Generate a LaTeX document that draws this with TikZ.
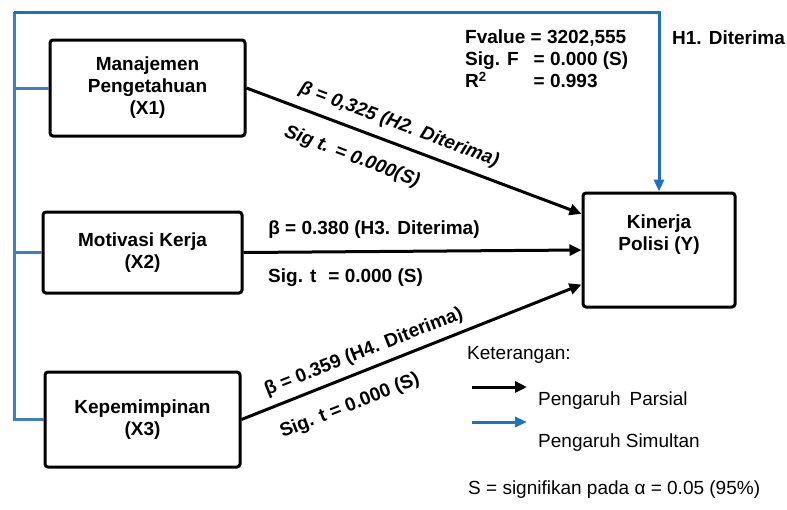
\documentclass[tikz,border=0pt]{standalone}
\usepackage{fontspec}
\setmainfont{Liberation Sans}
\usetikzlibrary{arrows.meta,calc}
\definecolor{frameblue}{RGB}{62,125,190}
\definecolor{arrowblue}{RGB}{30,112,192}
\tikzset{
  varbox/.style={draw=black, line width=3pt, rounded corners=3pt, inner sep=0pt, align=center,
    font=\bfseries\fontsize{19}{22}\selectfont},
  lbl/.style={font=\bfseries\fontsize{19}{22}\selectfont, inner sep=0pt},
  ilbl/.style={font=\bfseries\itshape\fontsize{19}{22}\selectfont, inner sep=0pt},
  leg/.style={font=\fontsize{19}{22}\selectfont, inner sep=0pt, anchor=west},
  parr/.style={line width=3pt, -{Triangle[length=12pt,width=11pt]}},
  sarr/.style={draw=arrowblue, line width=3pt, -{Triangle[length=12pt,width=10pt]}},
  sline/.style={draw=frameblue, line width=3pt},
}
\begin{document}
\begin{tikzpicture}[x=1pt,y=-1pt]
\useasboundingbox (0,0) rectangle (787,509);

% variable boxes
\node[varbox, minimum width=195pt, minimum height=96pt] (x1) at (147.5,88) {Manajemen\\Pengetahuan\\(X1)};
\node[varbox, minimum width=199pt, minimum height=81pt] (x2) at (142.5,252.5) {Motivasi Kerja\\(X2)};
\node[varbox, minimum width=195pt, minimum height=95pt] (x3) at (142.5,419.5) {Kepemimpinan\\(X3)};
\node[varbox, minimum width=152pt, minimum height=114pt] (y) at (659,250) {};
\node[lbl, align=center] (ytxt) at (659,235) {Kinerja\\Polisi (Y)};

% simultaneous frame
\coordinate (tl) at (14,12);
\draw[sline] (x1.west) -- (x1.west -| tl);
\draw[sline] (x2.west) -- (x2.west -| tl);
\draw[sline] (x3.west) -| (tl);
\draw[sarr] (tl) -| (y.north);

% partial arrows
\draw[parr] (x1.east) -- (y.155);
\draw[parr] (x2.east) -- (y.west);
\draw[parr] (x3.east) -- (y.204);

% path labels
\node[ilbl, rotate=-20.6] (h2) at (399,125) {β = 0,325 (H2. Diterima)};
\node[ilbl, rotate=-20.6] (s2) at (352,157) {Sig t. = 0.000(S)};
\node[lbl] (h3) at (374,230) {β = 0.380 (H3. Diterima)};
\node[lbl, anchor=west] (s3) at (268,278) {Sig. t\hspace{12pt}= 0.000 (S)};
\node[lbl, rotate=21.5] (h4) at (364,352) {β = 0.359 (H4. Diterima)};
\node[lbl, rotate=21.5] (s4) at (350,406) {Sig. t = 0.000 (S)};

% F statistics
\node[lbl, anchor=north west] (fstat) at (465,28) {%
  \begin{tabular}{@{}l@{\hspace{15pt}}l@{}}
  \multicolumn{2}{@{}l@{}}{Fvalue = 3202,555}\\
  Sig. F & = 0.000 (S)\\
  R\textsuperscript{2} & = 0.993
  \end{tabular}};
\node[lbl, anchor=west] (h1) at (672,38) {H1. Diterima};

% legend
\node[leg] (ket) at (467,355) {Keterangan:};
\coordinate (la1) at (472,387);
\coordinate (lb1) at (527,387);
\coordinate (la2) at (472,422);
\coordinate (lb2) at (527,422);
\draw[parr] (la1) -- (lb1);
\draw[sarr] (la2) -- (lb2);
\node[leg] (par) at (538,401) {Pengaruh\hspace{9pt}Parsial};
\node[leg] (sim) at (538,443) {Pengaruh Simultan};
\node[leg] (sig) at (468,490) {S = signifikan pada α = 0.05 (95\%)};
\end{tikzpicture}
\end{document}
